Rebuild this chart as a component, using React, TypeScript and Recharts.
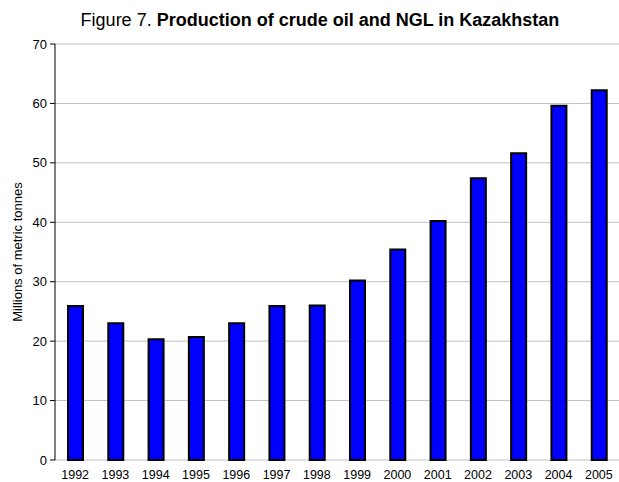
import React from "react";
import { BarChart, Bar, XAxis, YAxis, CartesianGrid } from "recharts";

const years = ["1992", "1993", "1994", "1995", "1996", "1997", "1998", "1999", "2000", "2001", "2002", "2003", "2004", "2005"];
const production = [25.9, 23.0, 20.3, 20.7, 23.0, 25.9, 26.0, 30.2, 35.4, 40.2, 47.4, 51.6, 59.6, 62.2];
const yTicks = [0, 10, 20, 30, 40, 50, 60, 70];
const boundaryTicks = [0, 1, 2, 3, 4, 5, 6, 7, 8, 9, 10, 11, 12, 13, 14];

const data = years.map((y, i) => ({ year: y, value: production[i], idx: i }));

const FONT = "'Liberation Sans', Arial, Helvetica, sans-serif";

export default function App() {
  return (
    <div style={{ position: "absolute", left: 0, top: 0, width: 619, height: 482, overflow: "hidden", background: "#fff", fontFamily: FONT }}>
      <div
        style={{
          position: "absolute",
          left: 0,
          width: 640,
          top: 10,
          textAlign: "center",
          fontSize: 18,
          color: "#000",
          whiteSpace: "nowrap",
        }}
      >
        Figure 7. <b>Production of crude oil and NGL in Kazakhstan</b>
      </div>
      <BarChart
        width={619}
        height={482}
        data={data}
        margin={{ top: 44, right: 0, bottom: 0, left: 0 }}
        barCategoryGap="0%"
      >
        <CartesianGrid horizontal={true} vertical={false} stroke="#c0c0c0" strokeWidth={1} />
        <XAxis
          xAxisId="b"
          type="number"
          dataKey="idx"
          domain={[0, 14]}
          ticks={boundaryTicks}
          tick={false}
          tickSize={5}
          height={0}
          axisLine={{ stroke: "#000", strokeWidth: 1 }}
          tickLine={{ stroke: "#000", strokeWidth: 1 }}
          allowDataOverflow
        />
        <XAxis
          xAxisId="c"
          dataKey="year"
          height={22}
          axisLine={false}
          tickLine={false}
          tickSize={0}
          tickMargin={10.5}
          interval={0}
          tick={{ fill: "#000", fontSize: 12.5, fontFamily: FONT }}
        />
        <YAxis
          domain={[0, 70]}
          ticks={yTicks}
          width={55}
          tickSize={5}
          tickMargin={3}
          interval={0}
          axisLine={{ stroke: "#000", strokeWidth: 1 }}
          tickLine={{ stroke: "#000", strokeWidth: 1 }}
          tick={{ fill: "#000", fontSize: 13, fontFamily: FONT }}
          label={{
            value: "Millions of metric tonnes",
            angle: -90,
            position: "insideLeft",
            offset: 17,
            style: { textAnchor: "middle", fill: "#000", fontSize: 13, fontFamily: FONT },
          }}
        />
        <Bar
          xAxisId="c"
          dataKey="value"
          fill="#0000ff"
          stroke="#000"
          strokeWidth={2}
          barSize={15}
          isAnimationActive={false}
        />
      </BarChart>
    </div>
  );
}
